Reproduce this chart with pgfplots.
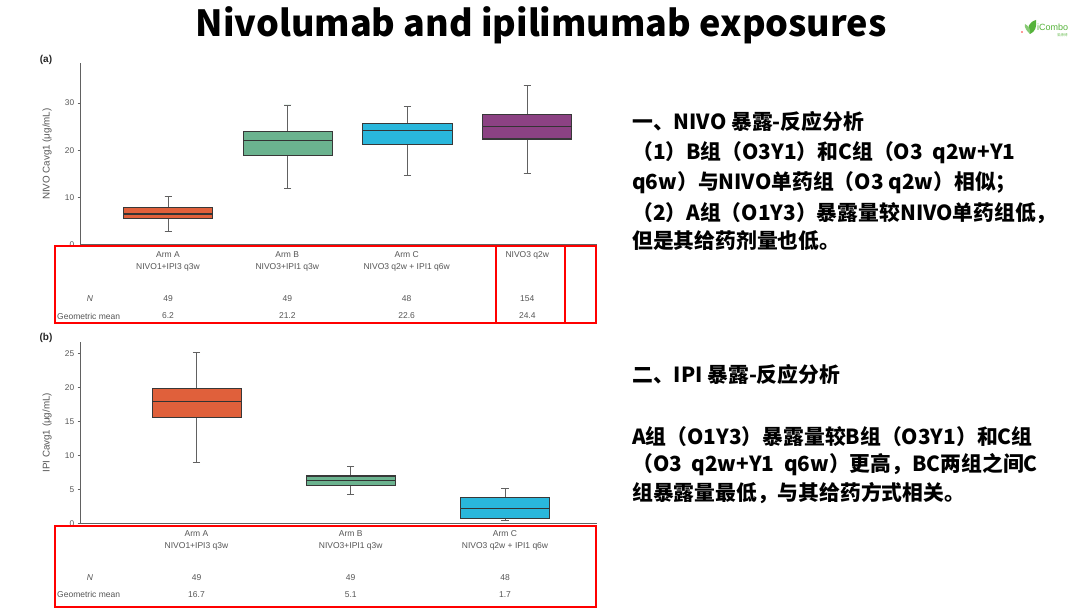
\documentclass[border=0pt]{standalone}
\usepackage{pgfplots}
\pgfplotsset{compat=1.18}
\usepgfplotslibrary{statistics}
\usepackage{fontspec}
\setmainfont{Liberation Sans}
\newfontfamily\cjk{Noto Sans CJK SC}
\definecolor{cA}{HTML}{E0603B}
\definecolor{cB}{HTML}{6BB38F}
\definecolor{cC}{HTML}{29B7DC}
\definecolor{cD}{HTML}{8C4283}
\definecolor{tgray}{HTML}{555555}
\definecolor{logog}{HTML}{55B33A}
\pgfplotsset{
  boxax/.style={
    scale only axis, width=516pt,
    axis x line=bottom, axis y line=left,
    axis line style={-, draw=black!62, line width=1pt},
    xtick=\empty, tick align=outside, major tick length=3pt,
    ytick style={draw=black!62, line width=0.8pt},
    tick label style={font=\fontsize{8.3}{10}\selectfont, text=tgray},
    /pgf/number format/assume math mode=true,
    ymin=0, clip=false,
    every axis y label/.style={at={(axis description cs:-0.0653,0.5)}, rotate=90, anchor=center, font=\fontsize{9.8}{11}\selectfont, text=tgray},
    boxplot/draw direction=y,
    boxplot/every box/.style={draw=black!78, line width=1.05pt},
    boxplot/every median/.style={draw=black!80, line width=1.05pt},
    boxplot/every whisker/.style={draw=black!62, line width=0.85pt},
  }
}
\begin{document}
\begin{tikzpicture}
\fill[white] (0pt,0pt) rectangle (1080pt,608pt);

% ---------- (a) NIVO ----------
\begin{axis}[boxax, height=181.7pt, at={(80.7pt,363pt)}, anchor=south west,
  xmin=0.27, xmax=4.58, ymax=38.4, ytick={0,10,20,30},
  ylabel={NIVO Cavg1 (μg/mL)}]
\addplot[fill=cA, boxplot prepared={draw position=1, lower whisker=2.9, lower quartile=5.6, median=6.55, upper quartile=7.9, upper whisker=10.2, box extend=0.745, whisker extend=0.06}] coordinates {};
\addplot[fill=cB, boxplot prepared={draw position=2, lower whisker=11.9, lower quartile=19.0, median=22.1, upper quartile=23.9, upper whisker=29.6, box extend=0.745, whisker extend=0.06}] coordinates {};
\addplot[fill=cC, boxplot prepared={draw position=3, lower whisker=14.6, lower quartile=21.2, median=24.2, upper quartile=25.7, upper whisker=29.2, box extend=0.745, whisker extend=0.06}] coordinates {};
\addplot[fill=cD, boxplot prepared={draw position=4, lower whisker=15.1, lower quartile=22.4, median=25.0, upper quartile=27.5, upper whisker=33.8, box extend=0.745, whisker extend=0.06}] coordinates {};
\end{axis}

% ---------- (b) IPI ----------
\begin{axis}[boxax, height=181pt, at={(80.7pt,84.7pt)}, anchor=south west,
  xmin=0.249, xmax=3.594, ymax=26.6, ytick={0,5,10,15,20,25},
  ylabel={IPI Cavg1 (μg/mL)}]
\addplot[fill=cA, boxplot prepared={draw position=1, lower whisker=9.0, lower quartile=15.5, median=17.9, upper quartile=19.8, upper whisker=25.05, box extend=0.577, whisker extend=0.047}] coordinates {};
\addplot[fill=cB, boxplot prepared={draw position=2, lower whisker=4.26, lower quartile=5.53, median=6.26, upper quartile=6.95, upper whisker=8.3, box extend=0.577, whisker extend=0.047}] coordinates {};
\addplot[fill=cC, boxplot prepared={draw position=3, lower whisker=0.44, lower quartile=0.73, median=2.2, upper quartile=3.86, upper whisker=5.14, box extend=0.577, whisker extend=0.047}] coordinates {};
\end{axis}

\begin{scope}[x=1pt, y=1pt, yshift=608pt, yscale=-1]
% title
\node[font=\cjk\bfseries\fontsize{36}{42}\selectfont, anchor=center] at (541,25) {Nivolumab and ipilimumab exposures};
% panel letters
\node[font=\bfseries\fontsize{10}{12}\selectfont, text=black!85] at (46,60) {(a)};
\node[font=\bfseries\fontsize{10}{12}\selectfont, text=black!85] at (46,338) {(b)};

% table (a)
\draw[red, line width=1.3pt] (55,246) rectangle (596,323);
\draw[red, line width=1.3pt] (496,246) -- (496,323);
\draw[red, line width=1.3pt] (565,246) -- (565,323);
\begin{scope}[every node/.style={font=\fontsize{8.5}{10}\selectfont, text=tgray, anchor=center, inner sep=0pt}]
\node at (168,255) {Arm A};
\node at (168,267) {NIVO1+IPI3 q3w};
\node at (287.3,255) {Arm B};
\node at (287.3,267) {NIVO3+IPI1 q3w};
\node at (406.7,255) {Arm C};
\node at (406.7,267) {NIVO3 q2w + IPI1 q6w};
\node at (527.3,255) {NIVO3 q2w};
\node[font=\itshape\fontsize{8.5}{10}\selectfont] at (90,299) {N};
\node at (168,299) {49};
\node at (287.3,299) {49};
\node at (406.7,299) {48};
\node at (527.3,299) {154};
\node[anchor=west] at (57,316) {Geometric mean};
\node at (168,316) {6.2};
\node at (287.3,316) {21.2};
\node at (406.7,316) {22.6};
\node at (527.3,316) {24.4};
\end{scope}

% table (b)
\draw[red, line width=1.3pt] (55,526) rectangle (596,607);
\begin{scope}[every node/.style={font=\fontsize{8.5}{10}\selectfont, text=tgray, anchor=center, inner sep=0pt}]
\node at (196.5,534) {Arm A};
\node at (196.5,546.5) {NIVO1+IPI3 q3w};
\node at (350.7,534) {Arm B};
\node at (350.7,546.5) {NIVO3+IPI1 q3w};
\node at (505,534) {Arm C};
\node at (505,546.5) {NIVO3 q2w + IPI1 q6w};
\node[font=\itshape\fontsize{8.5}{10}\selectfont] at (90,577.5) {N};
\node at (196.5,577.5) {49};
\node at (350.7,577.5) {49};
\node at (505,577.5) {48};
\node[anchor=west] at (57,594.5) {Geometric mean};
\node at (196.5,594.5) {16.7};
\node at (350.7,594.5) {5.1};
\node at (505,594.5) {1.7};
\end{scope}

% right-hand notes
\begin{scope}[every node/.style={font=\cjk\bfseries\fontsize{20.8}{25}\selectfont, anchor=west, inner sep=0pt}]
\node at (632,122) {一、NIVO 暴露-反应分析};
\node at (632,153) {（1）B组（O3Y1）和C组（O3\ \ q2w+Y1};
\node at (632,183) {q6w）与NIVO单药组（O3 q2w）相似；};
\node at (632,213) {（2）A组（O1Y3）暴露量较NIVO单药组低，};
\node at (632,241) {但是其给药剂量也低。};
\node at (632,375) {二、IPI 暴露-反应分析};
\node at (632,436.5) {A组（O1Y3）暴露量较B组（O3Y1）和C组};
\node at (632,465) {（O3\ \ q2w+Y1\ \ q6w）更高，BC两组之间C};
\node at (632,493.5) {组暴露量最低，与其给药方式相关。};
\end{scope}

% logo
\fill[logog] (1030,34) .. controls (1026,28) and (1029,22) .. (1036,20) .. controls (1037,27) and (1035,32) .. (1030,34) -- cycle;
\fill[logog!70] (1030,34) .. controls (1027,31) and (1024,28) .. (1025,24) .. controls (1029,26) and (1031,30) .. (1030,34) -- cycle;
\fill[red!80] (1022,32) circle (0.9);
\node[font=\fontsize{9}{10}\selectfont, text=logog, anchor=west, inner sep=0pt] at (1037,27) {iCombo};
\node[font=\cjk\fontsize{3.5}{4}\selectfont, text=logog!80, anchor=west, inner sep=0pt] at (1057,35) {爱康博};
\end{scope}
\end{tikzpicture}
\end{document}
